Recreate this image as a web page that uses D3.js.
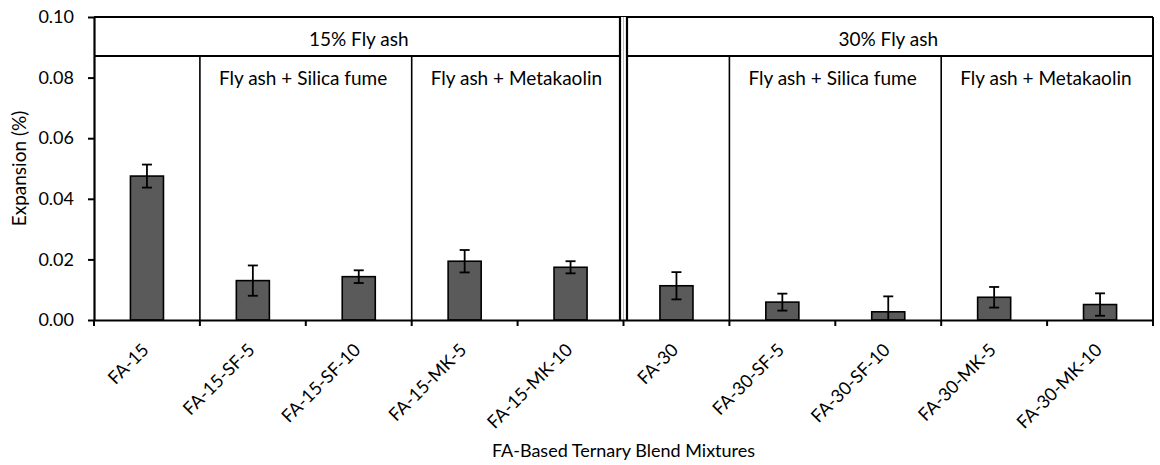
<!DOCTYPE html>
<html>
<head>
<meta charset="utf-8">
<script src="https://cdn.jsdelivr.net/npm/d3@7"></script>
<style>
  html, body { margin: 0; padding: 0; background: #fff; }
  svg { display: block; }
  text { font-family: Lato, "Noto Sans", sans-serif; fill: #000; }
</style>
</head>
<body>
<svg id="chart" width="1160" height="465"></svg>
<script>
// ---------------- data ----------------
const categories = ["FA-15", "FA-15-SF-5", "FA-15-SF-10", "FA-15-MK-5", "FA-15-MK-10",
                    "FA-30", "FA-30-SF-5", "FA-30-SF-10", "FA-30-MK-5", "FA-30-MK-10"];
const expansion = [0.0475, 0.0130, 0.0143, 0.0194, 0.0174,
                   0.0113, 0.0059, 0.0027, 0.0075, 0.0051];
const errors =    [0.0038, 0.0050, 0.0021, 0.0037, 0.0020,
                   0.0045, 0.0028, 0.0051, 0.0034, 0.0037];
const yTicks = [0, 0.02, 0.04, 0.06, 0.08, 0.10];
// panel headers: [label, first category index, last category index]
const panelLabels = ["15% Fly ash", "30% Fly ash"];
const panelSpans = [[0, 4], [5, 9]];
const groupLabels = ["Fly ash + Silica fume", "Fly ash + Metakaolin", "Fly ash + Silica fume", "Fly ash + Metakaolin"];
const groupSpans = [[1, 2], [3, 4], [6, 7], [8, 9]];
const xTitle = "FA-Based Ternary Blend Mixtures";
const yTitle = "Expansion (%)";

// ---------------- layout ----------------
const pL = 94, pR = 1153, pT = 17, pB = 320, headerH = 39;
const svg = d3.select("#chart");

const x = d3.scaleBand().domain(categories).range([pL, pR])
  .paddingInner(0.688).paddingOuter(0.344);
const step = x.step();
const bandLeft = i => pL + i * step;
const y = d3.scaleLinear().domain([0, 0.10]).range([pB, pT]);

// clip for plot area
svg.append("defs").append("clipPath").attr("id", "plotclip")
  .append("rect").attr("x", pL).attr("y", pT).attr("width", pR - pL).attr("height", pB - pT);

// bars
svg.append("g").selectAll("rect").data(categories).join("rect")
  .attr("x", d => x(d))
  .attr("y", (d, i) => y(expansion[i]))
  .attr("width", x.bandwidth())
  .attr("height", (d, i) => y(0) - y(expansion[i]))
  .attr("fill", "#5a5a5a")
  .attr("stroke", "#000")
  .attr("stroke-width", 1.6);

// error bars
const eb = svg.append("g").attr("clip-path", "url(#plotclip)")
  .attr("stroke", "#000").attr("stroke-width", 1.8);
categories.forEach((c, i) => {
  const cx = x(c) + x.bandwidth() / 2;
  const hi = y(expansion[i] + errors[i]), lo = y(expansion[i] - errors[i]);
  eb.append("line").attr("x1", cx).attr("x2", cx).attr("y1", hi).attr("y2", lo);
  eb.append("line").attr("x1", cx - 5).attr("x2", cx + 5).attr("y1", hi).attr("y2", hi);
  eb.append("line").attr("x1", cx - 5).attr("x2", cx + 5).attr("y1", lo).attr("y2", lo);
});

// frame lines
const fr = svg.append("g").attr("stroke", "#000").attr("fill", "none");
fr.append("line").attr("x1", pL).attr("x2", pR).attr("y1", pT).attr("y2", pT).attr("stroke-width", 2);
fr.append("line").attr("x1", pL).attr("x2", pR).attr("y1", pT + headerH).attr("y2", pT + headerH).attr("stroke-width", 2);
fr.append("line").attr("x1", pR).attr("x2", pR).attr("y1", pT).attr("y2", pB).attr("stroke-width", 2);
groupSpans.forEach(([a]) => {
  const gx = bandLeft(a);
  fr.append("line").attr("x1", gx).attr("x2", gx).attr("y1", pT + headerH).attr("y2", pB).attr("stroke-width", 1.6);
});
// double line between panels
const px = bandLeft(panelSpans[1][0]);
fr.append("rect").attr("x", px - 3.5).attr("y", pT).attr("width", 7).attr("height", pB - pT)
  .attr("fill", "#fff").attr("stroke", "none");
[-3.5, 3.5].forEach(o => {
  fr.append("line").attr("x1", px + o).attr("x2", px + o).attr("y1", pT).attr("y2", pB)
    .attr("stroke-width", 2.2);
});
fr.append("line").attr("x1", px).attr("x2", px).attr("y1", pT).attr("y2", pB)
  .attr("stroke", "#bbb").attr("stroke-width", 1);

// header texts
panelSpans.forEach(([a, b], i) => {
  const cx = (bandLeft(a) + bandLeft(b + 1)) / 2;
  svg.append("text").attr("x", cx).attr("y", 46).attr("text-anchor", "middle")
    .attr("font-size", 19).text(panelLabels[i]);
});
groupSpans.forEach(([a], i) => {
  svg.append("text").attr("x", bandLeft(a) + 19).attr("y", 85).attr("text-anchor", "start")
    .attr("font-size", 19).text(groupLabels[i]);
});

// y axis
const yAxis = svg.append("g").attr("transform", `translate(${pL},0)`)
  .call(d3.axisLeft(y).tickValues(yTicks).tickFormat(d3.format(".2f")).tickSize(6).tickSizeOuter(0));
yAxis.select(".domain").attr("stroke-width", 2.2);
yAxis.selectAll(".tick line").attr("stroke-width", 2);
yAxis.selectAll("text").attr("font-size", 18).attr("font-family", "Lato, sans-serif").attr("x", -20);

// x axis (labels only) + boundary ticks
const xAxis = svg.append("g").attr("transform", `translate(0,${pB})`)
  .call(d3.axisBottom(x).tickSize(0).tickSizeOuter(0));
xAxis.select(".domain").attr("stroke-width", 2.2);
xAxis.selectAll(".tick text")
  .attr("font-size", 18).attr("font-family", "Lato, sans-serif")
  .attr("text-anchor", "end")
  .attr("y", 0)
  .attr("dy", 0)
  .attr("transform", "translate(3,31) rotate(-45)");
const boundaries = d3.range(categories.length + 1).map(bandLeft);
svg.append("g").selectAll("line").data(boundaries).join("line")
  .attr("x1", d => d).attr("x2", d => d).attr("y1", pB).attr("y2", pB + 6)
  .attr("stroke", "#000").attr("stroke-width", 2);

// axis titles
svg.append("text").attr("x", (pL + pR) / 2).attr("y", 457).attr("text-anchor", "middle")
  .attr("font-size", 18).text(xTitle);
svg.append("text").attr("transform", `translate(26,${(pT + pB) / 2}) rotate(-90)`)
  .attr("text-anchor", "middle").attr("font-size", 19).text(yTitle);
</script>
</body>
</html>
